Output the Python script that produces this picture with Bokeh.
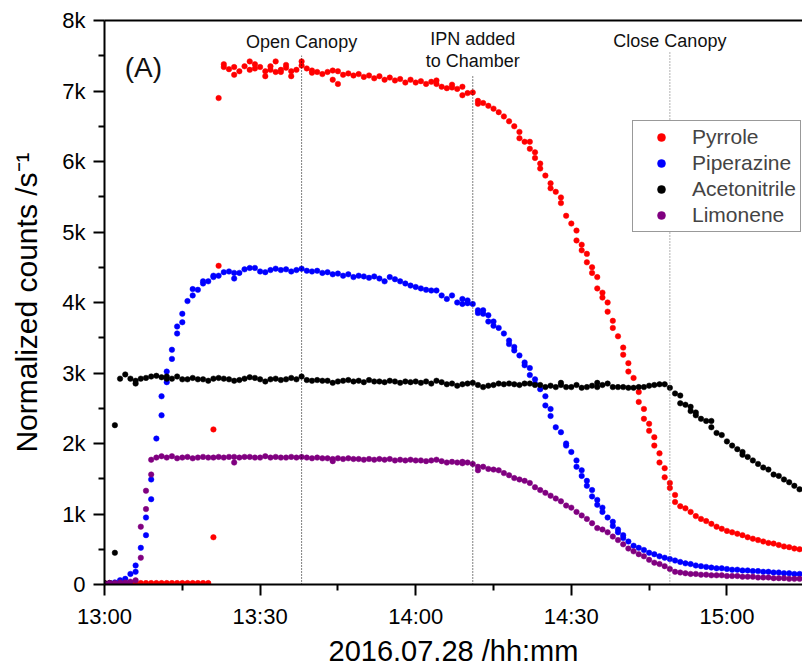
import pandas as pd
from bokeh.plotting import figure
from bokeh.models import (FixedTicker, DatetimeTickFormatter, LinearAxis, Label,
                          Legend, LegendItem, ColumnDataSource, Range1d)
from bokeh.embed import file_html
from bokeh.resources import INLINE

# ---------------- data (values in thousands of counts/s) ----------------
START = "2016-07-28 13:00"
minutes = list(range(135))  # minutes after 13:00, one reading per minute

pyrrole = [
    0.02, 0.02, 0.02, 0.02, 0.02, 0.02, 0.02, 0.02, 0.02, 0.02,
    0.02, 0.02, 0.02, 0.02, 0.02, 0.02, 0.02, 0.02, 0.02, 0.02,
    0.02, 0.67, 4.52, 7.38, 7.31, 7.34, 7.28, 7.35, 7.42, 7.38,
    7.34, 7.28, 7.35, 7.42, 7.30, 7.37, 7.28, 7.30, 7.42, 7.32,
    7.29, 7.27, 7.24, 7.27, 7.29, 7.28, 7.23, 7.25, 7.22, 7.24,
    7.20, 7.22, 7.18, 7.21, 7.16, 7.19, 7.15, 7.17, 7.12, 7.16,
    7.12, 7.14, 7.10, 7.13, 7.15, 7.06, 7.04, 7.09, 7.03, 7.06,
    6.97, 6.98, 6.86, 6.83, 6.79, 6.75, 6.70, 6.64, 6.57, 6.50,
    6.42, 6.28, 6.28, 6.13, 5.97, 5.80, 5.69, 5.57, 5.49, 5.23,
    5.12, 5.02, 4.82, 4.69, 4.50, 4.36, 4.14, 4.00, 3.74, 3.52,
    3.36, 3.14, 2.93, 2.73, 2.49, 2.28, 2.09, 1.86, 1.65, 1.44,
    1.27, 1.11, 1.08, 1.03, 0.97, 0.93, 0.90, 0.86, 0.82, 0.79,
    0.76, 0.74, 0.72, 0.70, 0.67, 0.65, 0.63, 0.61, 0.59, 0.58,
    0.56, 0.54, 0.53, 0.51, 0.50,
]
pyrrole_extra_t = [21, 22, 23, 25, 28, 29, 31, 32, 33, 34, 35, 36, 38, 40, 44, 45, 64, 67, 69, 72,
                   80, 82, 83, 84, 86, 88, 91, 92, 93, 94, 95, 96, 97, 98, 100, 101, 103, 104, 105, 106,
                   107, 108, 109, 110]
pyrrole_extra_v = [2.20, 6.90, 7.34, 7.23, 7.30, 7.32, 7.21, 7.30, 7.27, 7.27, 7.33, 7.21, 7.36, 7.26, 7.16, 7.10, 7.10, 7.05, 6.94, 6.82,
                   6.33, 6.18, 6.05, 5.90, 5.62, 5.41, 4.88, 4.74, 4.57, 4.42, 4.20, 4.07, 3.87, 3.64, 3.26, 3.02, 2.59, 2.35, 2.18, 1.97,
                   1.73, 1.52, 1.37, 1.17]

piperazine = [
    0.01, 0.02, 0.03, 0.06, 0.08, 0.15, 0.18, 0.52, 0.70, 1.21,
    2.07, 2.40, 2.87, 3.20, 3.56, 3.72, 4.02, 4.10, 4.18, 4.27,
    4.30, 4.38, 4.38, 4.43, 4.44, 4.34, 4.42, 4.47, 4.49, 4.49,
    4.44, 4.43, 4.46, 4.48, 4.46, 4.47, 4.44, 4.46, 4.48, 4.45,
    4.44, 4.45, 4.42, 4.43, 4.40, 4.41, 4.38, 4.40, 4.36, 4.38,
    4.37, 4.35, 4.37, 4.34, 4.30, 4.36, 4.33, 4.30, 4.27, 4.24,
    4.22, 4.20, 4.18, 4.17, 4.17, 4.10, 4.05, 4.10, 4.00, 4.05,
    4.03, 3.98, 3.89, 3.89, 3.82, 3.73, 3.64, 3.56, 3.46, 3.37,
    3.25, 3.15, 3.07, 2.91, 2.77, 2.67, 2.49, 2.23, 2.16, 2.00,
    1.88, 1.76, 1.62, 1.47, 1.34, 1.20, 1.09, 0.95, 0.89, 0.78,
    0.70, 0.61, 0.55, 0.52, 0.49, 0.45, 0.43, 0.40, 0.38, 0.36,
    0.34, 0.32, 0.30, 0.29, 0.27, 0.26, 0.25, 0.24, 0.23, 0.23,
    0.22, 0.21, 0.21, 0.20, 0.20, 0.19, 0.19, 0.18, 0.18, 0.17,
    0.17, 0.16, 0.16, 0.15, 0.15,
]
piperazine_extra_t = [6, 8, 9, 11, 12, 13, 14, 15, 17, 19, 21, 25, 69, 70, 72, 73, 74, 75, 78, 79,
                      81, 82, 83, 85, 86, 89, 91, 92, 93, 94, 95, 96, 98, 99, 100]
piperazine_extra_v = [0.27, 0.95, 1.49, 2.67, 3.02, 3.33, 3.66, 3.84, 4.19, 4.30, 4.36, 4.42, 3.98, 3.99, 3.85, 3.84, 3.73, 3.67, 3.41, 3.32,
                      3.11, 2.97, 2.85, 2.54, 2.39, 1.97, 1.67, 1.54, 1.40, 1.25, 1.13, 1.03, 0.83, 0.74, 0.66]

acetonitrile = [
    0.02, 0.02, 0.45, 2.92, 2.98, 2.92, 2.85, 2.92, 2.93, 2.95,
    2.96, 2.94, 2.92, 2.92, 2.95, 2.91, 2.91, 2.93, 2.91, 2.91,
    2.89, 2.92, 2.93, 2.92, 2.91, 2.89, 2.90, 2.92, 2.94, 2.93,
    2.91, 2.88, 2.91, 2.92, 2.90, 2.91, 2.93, 2.91, 2.95, 2.90,
    2.89, 2.90, 2.89, 2.89, 2.86, 2.88, 2.89, 2.90, 2.88, 2.89,
    2.87, 2.90, 2.88, 2.88, 2.87, 2.89, 2.88, 2.86, 2.88, 2.87,
    2.88, 2.86, 2.88, 2.85, 2.89, 2.87, 2.84, 2.85, 2.82, 2.84,
    2.85, 2.86, 2.83, 2.80, 2.82, 2.83, 2.85, 2.84, 2.85, 2.84,
    2.83, 2.85, 2.85, 2.83, 2.83, 2.80, 2.82, 2.80, 2.86, 2.80,
    2.80, 2.83, 2.79, 2.80, 2.82, 2.86, 2.83, 2.85, 2.80, 2.80,
    2.80, 2.79, 2.79, 2.80, 2.80, 2.82, 2.83, 2.84, 2.84, 2.79,
    2.71, 2.68, 2.55, 2.52, 2.44, 2.35, 2.32, 2.32, 2.15, 2.12,
    2.03, 1.97, 1.92, 1.88, 1.81, 1.76, 1.71, 1.66, 1.63, 1.56,
    1.54, 1.49, 1.45, 1.40, 1.35,
]
acetonitrile_extra_t = [2, 6, 12, 88, 95, 111, 113, 114, 117, 123]
acetonitrile_extra_v = [2.26, 2.89, 2.95, 2.83, 2.80, 2.57, 2.46, 2.40, 2.23, 1.84]

limonene = [
    0.01, 0.02, 0.02, 0.03, 0.03, 0.04, 0.06, 0.38, 1.07, 1.56,
    1.80, 1.82, 1.80, 1.82, 1.79, 1.80, 1.81, 1.79, 1.80, 1.81,
    1.80, 1.80, 1.81, 1.80, 1.81, 1.81, 1.80, 1.81, 1.81, 1.80,
    1.80, 1.82, 1.80, 1.81, 1.80, 1.80, 1.81, 1.80, 1.81, 1.80,
    1.79, 1.80, 1.79, 1.79, 1.78, 1.79, 1.78, 1.79, 1.78, 1.78,
    1.77, 1.78, 1.77, 1.78, 1.77, 1.78, 1.76, 1.77, 1.76, 1.77,
    1.76, 1.76, 1.75, 1.76, 1.77, 1.75, 1.73, 1.74, 1.73, 1.74,
    1.73, 1.71, 1.67, 1.67, 1.64, 1.63, 1.62, 1.58, 1.55, 1.51,
    1.49, 1.47, 1.44, 1.38, 1.34, 1.30, 1.26, 1.22, 1.18, 1.12,
    1.09, 1.03, 0.98, 0.93, 0.87, 0.80, 0.78, 0.74, 0.68, 0.63,
    0.57, 0.51, 0.47, 0.43, 0.40, 0.35, 0.31, 0.29, 0.26, 0.22,
    0.18, 0.17, 0.16, 0.15, 0.15, 0.14, 0.14, 0.13, 0.13, 0.13,
    0.12, 0.12, 0.12, 0.11, 0.11, 0.11, 0.10, 0.10, 0.10, 0.09,
    0.09, 0.09, 0.08, 0.08, 0.08,
]
limonene_extra_t = [7, 8, 9, 25, 44, 69, 72]
limonene_extra_v = [0.82, 1.33, 1.77, 1.73, 1.75, 1.72, 1.62]

series_names = ["Pyrrole", "Piperazine", "Acetonitrile", "Limonene"]
series_colors = ["#ff0000", "#0000ff", "#000000", "#800080"]

event_minutes = [38, 71, 109]
event_texts = [["Open Canopy"], ["IPN added", "to Chamber"], ["Close Canopy"]]

x_tick_minutes = [0, 30, 60, 90, 120]
x_tick_labels = ["13:00", "13:30", "14:00", "14:30", "15:00"]
x_minor_minutes = [15, 45, 75, 105]
y_ticks = [0, 1, 2, 3, 4, 5, 6, 7, 8]
y_tick_labels = ["0", "1k", "2k", "3k", "4k", "5k", "6k", "7k", "8k"]

for arr in (pyrrole, piperazine, acetonitrile, limonene):
    assert len(arr) == len(minutes)

# ---------------- helpers ----------------
BASE_MS = pd.Timestamp(START).value / 1e6


def to_ms(m):
    return BASE_MS + m * 60000.0


FONT = "Liberation Sans"

p = figure(width=802, height=671, x_axis_type="datetime", output_backend="svg",
           toolbar_location=None,
           x_range=Range1d(to_ms(0), to_ms(134.57)), y_range=Range1d(0, 8),
           min_border_left=104, min_border_right=0, min_border_top=20, min_border_bottom=87)
p.outline_line_color = None
p.xgrid.visible = False
p.ygrid.visible = False
p.background_fill_color = "white"
p.border_fill_color = "white"

series = [
    (pyrrole, pyrrole_extra_t, pyrrole_extra_v),
    (piperazine, piperazine_extra_t, piperazine_extra_v),
    (acetonitrile, acetonitrile_extra_t, acetonitrile_extra_v),
    (limonene, limonene_extra_t, limonene_extra_v),
]
renderers = []
for color, (main, ext_t, ext_v) in zip(series_colors, series):
    ts = list(minutes) + list(ext_t)
    vs = list(main) + list(ext_v)
    src = ColumnDataSource(dict(x=[to_ms(t) for t in ts], y=vs))
    r = p.scatter("x", "y", source=src, size=5.5, fill_color=color, line_color=color,
                  line_width=0.5)
    renderers.append(r)

# event lines
line_colors = ["#000000", "#000000", "#666666"]
p.segment(x0=[to_ms(m) for m in event_minutes], y0=[0, 0, 0],
          x1=[to_ms(m) for m in event_minutes], y1=[7.5, 7.22, 7.55],
          line_color=line_colors, line_dash="1 2", line_width=1)

# event texts
text_rows = [[7.69], [7.74, 7.42], [7.71]]
for m, texts, ys in zip(event_minutes, event_texts, text_rows):
    for t, yy in zip(texts, ys):
        p.add_layout(Label(x=to_ms(m), y=yy, text=t, text_align="center",
                           text_baseline="middle", text_font=FONT,
                           text_font_size="18px", text_color="#111111"))

p.add_layout(Label(x=to_ms(7.5), y=7.33, text="(A)", text_align="center",
                   text_baseline="middle", text_font=FONT, text_font_size="28px",
                   text_color="#111111"))

# axes
xa = p.xaxis[0]
xa.ticker = FixedTicker(ticks=[to_ms(m) for m in x_tick_minutes],
                        minor_ticks=[to_ms(m) for m in x_minor_minutes])
xa.formatter = DatetimeTickFormatter(minutes="%H:%M", hourmin="%H:%M", hours="%H:%M",
                                     minsec="%H:%M", seconds="%H:%M", days="%H:%M")
xa.major_label_overrides = {to_ms(m): lab for m, lab in zip(x_tick_minutes, x_tick_labels)}
xa.axis_label = "2016.07.28 /hh:mm"

ya = p.yaxis[0]
ya.ticker = FixedTicker(ticks=y_ticks, minor_ticks=[v + 0.5 for v in y_ticks[:-1]])
ya.major_label_overrides = {v: lab for v, lab in zip(y_ticks, y_tick_labels)}
ya.axis_label = "Normalized counts /s\u207b\u00b9"

for ax in (xa, ya):
    ax.axis_line_width = 2
    ax.axis_line_color = "black"
    ax.major_tick_out = 11
    ax.major_tick_in = 0
    ax.minor_tick_out = 6
    ax.minor_tick_in = 0
    ax.major_tick_line_width = 2
    ax.minor_tick_line_width = 2
    ax.major_tick_line_color = "black"
    ax.minor_tick_line_color = "black"
    ax.major_label_text_font = FONT
    ax.major_label_text_font_size = "22px"
    ax.major_label_text_color = "black"
    ax.major_label_standoff = 8
    ax.axis_label_text_font = FONT
    ax.axis_label_text_font_style = "normal"
    ax.axis_label_text_color = "black"
xa.axis_label_text_font_size = "29px"
ya.axis_label_text_font_size = "30px"
xa.axis_label_standoff = 3
ya.axis_label_standoff = 16

top = LinearAxis(ticker=FixedTicker(ticks=[]), major_label_text_font_size="0px",
                 major_tick_line_color=None, minor_tick_line_color=None,
                 axis_line_width=2, axis_line_color="black")
p.add_layout(top, "above")

legend = Legend(items=[LegendItem(label=n, renderers=[r]) for n, r in zip(series_names, renderers)],
                location=(528, 352), padding=4, spacing=2, glyph_width=48, glyph_height=20,
                label_height=20, label_standoff=7, label_text_font=FONT,
                label_text_font_size="21px", border_line_color="#333333",
                border_line_width=1.5, background_fill_color="white", background_fill_alpha=1.0,
                margin=0)
p.add_layout(legend)

open("out.html", "w").write(file_html(p, INLINE))
